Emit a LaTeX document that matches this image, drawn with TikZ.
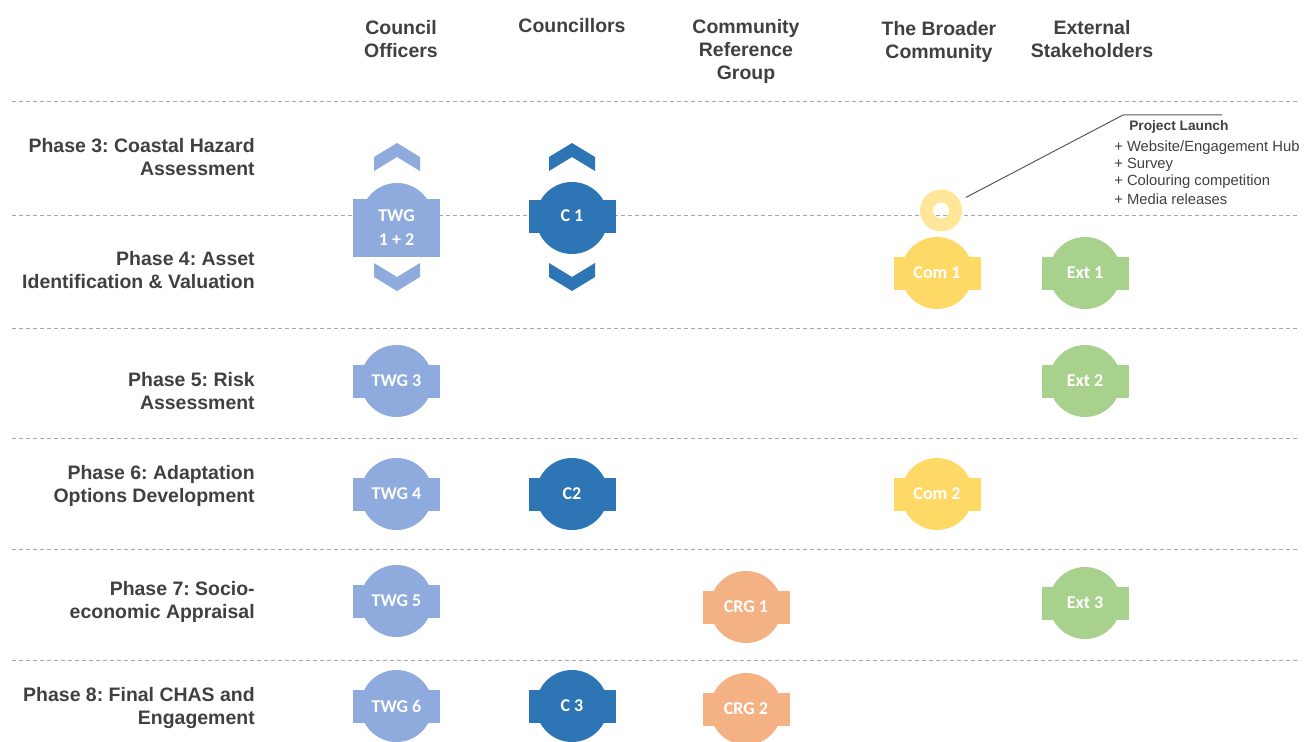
\documentclass[tikz,border=0pt]{standalone}
\usepackage{fontspec}
\setmainfont{Liberation Sans}
\newfontfamily\calib{Carlito}
\definecolor{txt}{HTML}{404040}
\definecolor{dashc}{HTML}{A6A6A6}
\definecolor{lblue}{HTML}{8FAADC}
\definecolor{dblue}{HTML}{2E75B6}
\definecolor{yel}{HTML}{FFD966}
\definecolor{ringc}{HTML}{FFE699}
\definecolor{grn}{HTML}{A9D18E}
\definecolor{org}{HTML}{F4B183}
\definecolor{leadc}{HTML}{595959}
\tikzset{
  hdr/.style={font=\bfseries\fontsize{14.6}{17.25}\selectfont, text=txt, align=center, inner sep=0pt},
  phase/.style={font=\bfseries\fontsize{14.6}{17.25}\selectfont, text=txt, align=right, anchor=east, inner sep=0pt},
  sep/.style={draw=dashc, line width=0.75pt, dash pattern=on 3pt off 2.25pt},
  disc/.style={circle, minimum size=54pt, inner sep=0pt, outer sep=0pt},
  band/.style={minimum width=65.25pt, minimum height=24.75pt, inner sep=0pt, outer sep=0pt, text=white, font=\calib\bfseries\fontsize{13.5}{18}\selectfont, align=center},
  leader/.style={draw=leadc, line width=0.75pt},
  launchtitle/.style={font=\bfseries\fontsize{10.3}{12.75}\selectfont, text=txt, anchor=west, inner sep=0pt},
  launchlist/.style={font=\fontsize{11.1}{12.75}\selectfont, text=txt, anchor=west, inner sep=0pt, align=left},
}
\newcommand\stagenode[4]{%
  \node[disc, fill=#3] (#1c) at (#2) {};
  \node[band, fill=#3] (#1) at (#2) {#4};
}
\newcommand\chevup[3]{% x, y(top), colour
  \fill[#3] (#1-23,#2+14) -- (#1,#2) -- (#1+23,#2+14) -- (#1+23,#2+28) -- (#1,#2+14) -- (#1-23,#2+28) -- cycle;
}
\newcommand\chevdown[3]{% x, y(top), colour
  \fill[#3] (#1-23,#2) -- (#1,#2+14) -- (#1+23,#2) -- (#1+23,#2+14) -- (#1,#2+28) -- (#1-23,#2+14) -- cycle;
}
\frenchspacing
\begin{document}
\begin{tikzpicture}[x=0.75pt,y=-0.75pt]
\useasboundingbox (0,0) rectangle (1304,742);
\clip (0,0) rectangle (1304,742);

% separators
\foreach \yy in {102,215,328,438,549,660}
  \draw[sep] (12,\yy) -- (1297,\yy);

% headers
\node[hdr] (h1) at (401,39.5) {Council\\Officers};
\node[hdr] (h2) at (572,26) {Councillors};
\node[hdr] (h3) at (746,51) {Community\\Reference\\Group};
\node[hdr] (h4) at (939,42) {The Broader\\Community};
\node[hdr] (h5) at (1092,39.5) {External\\Stakeholders};

% phase labels
\node[phase] (p3) at (255,157.5) {Phase 3: Coastal Hazard\\Assessment};
\node[phase] (p4) at (255,270.5) {Phase 4: Asset\\Identification \& Valuation};
\node[phase] (p5) at (255,391.5) {Phase 5: Risk\\Assessment};
\node[phase] (p6) at (255,485.5) {Phase 6: Adaptation\\Options Development};
\node[phase] (p7) at (255,601.5) {Phase 7: Socio-\\economic Appraisal};
\node[phase] (p8) at (255,708.5) {Phase 8: Final CHAS and\\Engagement};

% chevrons
\chevup{397}{143}{lblue}
\chevdown{397}{263}{lblue}
\chevup{572}{143}{dblue}
\chevdown{572}{263}{dblue}

% TWG 1 + 2
\node[disc, fill=lblue] (twg12c) at (397,219) {};
\node[band, fill=lblue, minimum height=43.5pt] (twg12) at (396.5,228) {TWG\\1 + 2};

% C 1
\node[disc, fill=dblue] (c1c) at (572,218) {};
\node[band, fill=dblue] (c1) at (572,216) {C 1};

% stages
\stagenode{com1}{937,273}{yel}{Com 1}
\stagenode{ext1}{1085,273}{grn}{Ext 1}
\stagenode{twg3}{396.5,381}{lblue}{TWG 3}
\stagenode{ext2}{1085,381}{grn}{Ext 2}
\stagenode{twg4}{396.5,494}{lblue}{TWG 4}
\stagenode{c2}{572,494}{dblue}{C2}
\stagenode{com2}{937,494}{yel}{Com 2}
\stagenode{twg5}{396.5,601}{lblue}{TWG 5}
\stagenode{crg1}{746,607}{org}{CRG 1}
\stagenode{ext3}{1085,603}{grn}{Ext 3}
\stagenode{twg6}{396.5,706}{lblue}{TWG 6}
\stagenode{c3}{572,706}{dblue}{C 3}
\stagenode{crg2}{746,709}{org}{CRG 2}

% project launch ring
\node[circle, draw=ringc, line width=9.75pt, minimum size=21.75pt, inner sep=0pt] (ring) at (941,210.5) {};
\coordinate (lk) at (1123,115);
\coordinate (lend) at (1222,115);
\draw[leader, shorten <=5.5pt] (ring) -- (lk) -- (lend);

\node[launchtitle] (lt) at (1129,127) {Project Launch};
\node[launchlist] (ll1) at (1114,148) {+ Website/Engagement Hub};
\node[launchlist] (ll2) at (1114,165) {+ Survey};
\node[launchlist] (ll3) at (1114,182) {+ Colouring competition};
\node[launchlist] (ll4) at (1114,199) {+ Media releases};
\end{tikzpicture}
\end{document}
